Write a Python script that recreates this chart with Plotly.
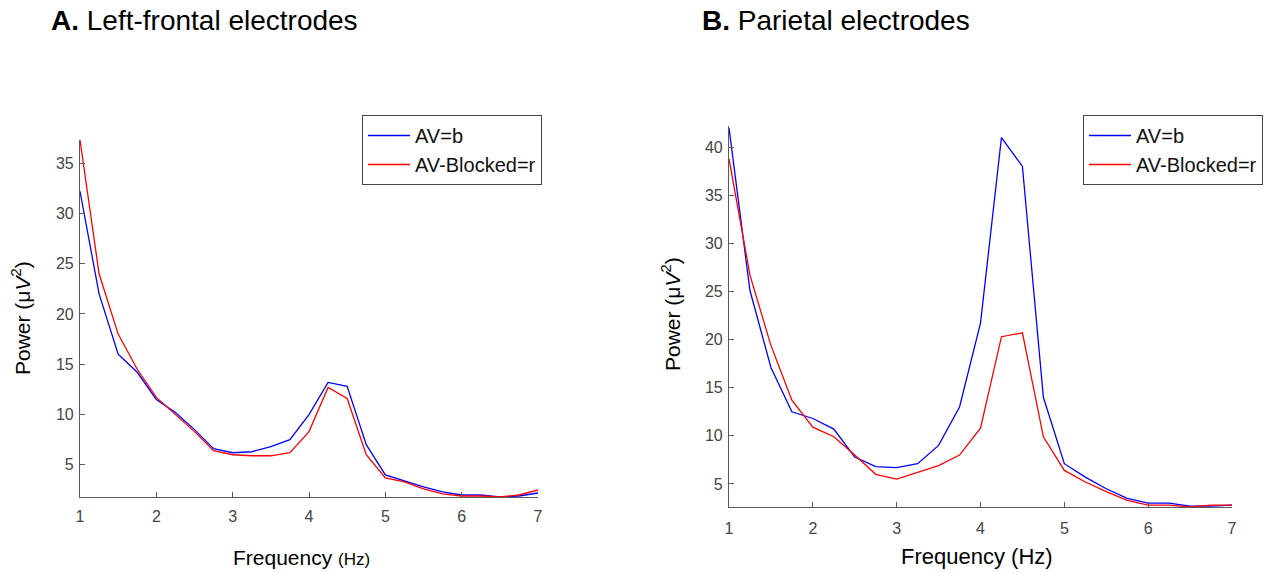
import plotly.graph_objects as go

freq = [1.0, 1.25, 1.5, 1.75, 2.0, 2.25, 2.5, 2.75, 3.0, 3.25, 3.5, 3.75, 4.0,
        4.25, 4.5, 4.75, 5.0, 5.25, 5.5, 5.75, 6.0, 6.25, 6.5, 6.75, 7.0]

frontal_av = [32.2, 22.0, 16.0, 14.2, 11.5, 10.2, 8.5, 6.6, 6.2, 6.3, 6.8, 7.5, 10.0,
              13.2, 12.8, 7.0, 4.0, 3.4, 2.8, 2.3, 2.0, 2.0, 1.8, 1.9, 2.2]
frontal_blocked = [37.3, 24.0, 18.0, 14.5, 11.7, 10.0, 8.3, 6.4, 6.0, 5.9, 5.9, 6.2, 8.3,
                   12.7, 11.6, 6.0, 3.7, 3.3, 2.6, 2.1, 1.9, 1.9, 1.8, 2.0, 2.5]

parietal_av = [42.0, 25.1, 17.1, 12.5, 11.8, 10.7, 7.8, 6.8, 6.7, 7.1, 9.0, 13.0, 21.7,
               41.0, 38.0, 14.0, 7.1, 5.7, 4.5, 3.5, 3.0, 3.0, 2.7, 2.7, 2.8]
parietal_blocked = [38.8, 26.7, 19.4, 13.7, 10.9, 9.9, 8.0, 6.0, 5.5, 6.2, 6.9, 8.0, 10.8,
                    20.3, 20.7, 9.9, 6.4, 5.2, 4.2, 3.3, 2.8, 2.8, 2.6, 2.8, 2.8]

x_ticks = [1, 2, 3, 4, 5, 6, 7]
y_ticks_a = [5, 10, 15, 20, 25, 30, 35]
y_ticks_b = [5, 10, 15, 20, 25, 30, 35, 40]

W, H = 1281, 573
BLUE = "#0000ff"
RED = "#ff0000"
AXC = "#5a5a5a"
TICKC = "#444444"
FONT = "Liberation Sans, Arial, sans-serif"


def px(x):
    return x / W


def py(y):
    return 1 - y / H


fig = go.Figure()

fig.add_trace(go.Scatter(x=freq, y=frontal_av, mode="lines", name="AV=b",
                         line=dict(color=BLUE, width=1.3), xaxis="x", yaxis="y", legend="legend"))
fig.add_trace(go.Scatter(x=freq, y=frontal_blocked, mode="lines", name="AV-Blocked=r",
                         line=dict(color=RED, width=1.3), xaxis="x", yaxis="y", legend="legend"))
fig.add_trace(go.Scatter(x=freq, y=parietal_av, mode="lines", name="AV=b",
                         line=dict(color=BLUE, width=1.3), xaxis="x2", yaxis="y2", legend="legend2"))
fig.add_trace(go.Scatter(x=freq, y=parietal_blocked, mode="lines", name="AV-Blocked=r",
                         line=dict(color=RED, width=1.3), xaxis="x2", yaxis="y2", legend="legend2"))

axis_common = dict(showline=True, linecolor=AXC, linewidth=1.2, ticks="inside", ticklen=5,
                   tickcolor=AXC, showgrid=False, zeroline=False, automargin=False,
                   tickfont=dict(family=FONT, size=16, color=TICKC))

legend_common = dict(xanchor="left", yanchor="top", bgcolor="white", bordercolor="#444444",
                     borderwidth=1, font=dict(family=FONT, size=20, color="#111111"),
                     tracegroupgap=0, itemwidth=42)

fig.update_layout(
    width=W, height=H,
    margin=dict(l=0, r=0, t=0, b=0, autoexpand=False),
    paper_bgcolor="white", plot_bgcolor="white",
    font=dict(family=FONT, color="black"),
    xaxis=dict(domain=[px(80), px(538)], range=[1, 7], tickvals=x_ticks, anchor="y",
               ticklabelstandoff=5, **axis_common),
    yaxis=dict(domain=[py(497), py(140)], range=[1.8, 37.3], tickvals=y_ticks_a, anchor="x",
               ticklabelstandoff=2, **axis_common),
    xaxis2=dict(domain=[px(729), px(1232)], range=[1, 7], tickvals=x_ticks, anchor="y2",
                ticklabelstandoff=7, **axis_common),
    yaxis2=dict(domain=[py(507), py(126)], range=[2.6, 42.2], tickvals=y_ticks_b, anchor="x2",
                ticklabelstandoff=2, **axis_common),
    legend=dict(x=px(362), y=py(115), **legend_common),
    legend2=dict(x=px(1083), y=py(115), **legend_common),
    showlegend=True,
)

annotations = [
    dict(text="<b>A.</b> Left-frontal electrodes", x=px(49), y=py(20), xanchor="left",
         yanchor="middle", font=dict(size=28, family=FONT, color="black")),
    dict(text="<b>B.</b> Parietal electrodes", x=px(700), y=py(20), xanchor="left",
         yanchor="middle", font=dict(size=28, family=FONT, color="black")),
    dict(text="Frequency <span style='font-size:17px'>(Hz)</span>", x=px(301), y=py(557),
         xanchor="center", yanchor="middle", font=dict(size=21, family=FONT, color="black")),
    dict(text="Frequency (Hz)", x=px(977), y=py(556), xanchor="center", yanchor="middle",
         font=dict(size=22, family=FONT, color="black")),
    dict(text="Power (μ<i>V</i><sup>2</sup>)", x=px(21), y=py(318), xanchor="center",
         yanchor="middle", textangle=-90, font=dict(size=21, family=FONT, color="black")),
    dict(text="Power (μ<i>V</i><sup>2</sup>)", x=px(671), y=py(314), xanchor="center",
         yanchor="middle", textangle=-90, font=dict(size=21, family=FONT, color="black")),
]
for a in annotations:
    a.update(xref="paper", yref="paper", showarrow=False)
fig.update_layout(annotations=annotations)

fig.write_html("out.html", config={"displayModeBar": False},
               post_script="document.body.style.margin='0px';")
